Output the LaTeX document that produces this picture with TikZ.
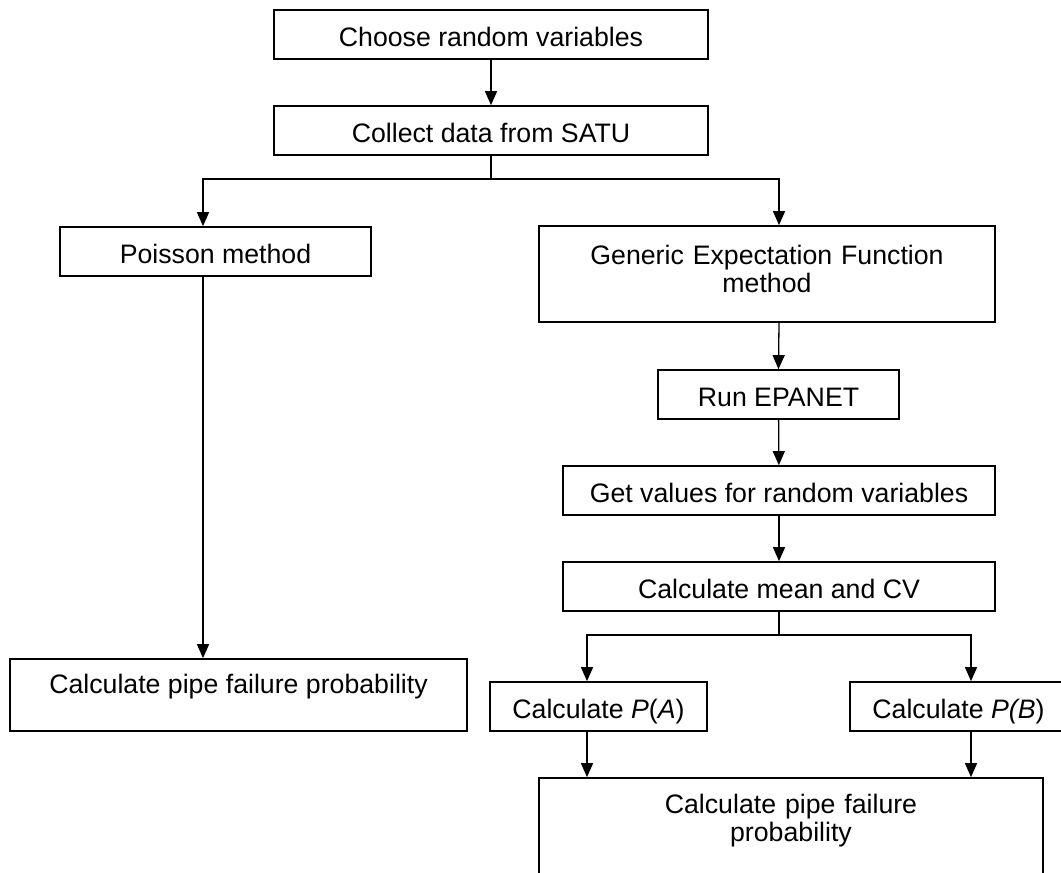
\documentclass[tikz,border=0pt]{standalone}
\usepackage{fontspec}
\setmainfont{Liberation Sans}
\usetikzlibrary{arrows.meta, positioning, calc}

\tikzset{
    box/.style={draw, line width=1.7pt, inner sep=0pt, align=center,
        text height=25pt, text depth=2pt},
    arr/.style={line width=1.3pt, -{Triangle[length=14pt, width=12pt]}},
    wire/.style={line width=1.3pt}
}

\begin{document}
\begin{tikzpicture}[x=1pt, y=-1pt, font=\fontsize{26.7}{28}\selectfont]
    \useasboundingbox (0,0) rectangle (1061,873);
    \clip (0,0) rectangle (1061,873);

    % Top boxes
    \node[box, minimum width=434pt, minimum height=49pt] (choose) at (491, 34.5) {Choose random variables};
    \node[box, minimum width=434pt, minimum height=49pt] (collect) at (491, 130.5) {Collect data from SATU};

    % Two methods
    \node[box, minimum width=311pt, minimum height=49pt] (poisson) at (215.5, 251.5) {Poisson method};
    \node[box, minimum width=456pt, minimum height=96pt, text width=440pt,
        text depth=45pt] (gef) at (767, 274) {Generic Expectation Function\\method};

    % Right column
    \node[box, minimum width=241pt, minimum height=49pt] (epanet) at (778.5, 394.5) {Run EPANET};
    \node[box, minimum width=432pt, minimum height=49pt] (getval) at (779, 490.5) {Get values for random variables};
    \node[box, minimum width=432pt, minimum height=49pt] (mean) at (779, 586.5) {Calculate mean and CV};

    % Probabilities
    \node[box, minimum width=457pt, minimum height=72pt, text depth=29pt] (calcL) at (238.5, 695) {Calculate pipe failure probability};
    \node[box, minimum width=217pt, minimum height=49pt] (pa) at (598.5, 706.5) {Calculate \textit{P}(\textit{A})};
    \node[box, minimum width=217pt, minimum height=49pt] (pb) at (958.5, 706.5) {Calculate \textit{P(B})};
    \node[box, minimum width=504pt, minimum height=120pt, text width=490pt,
        text depth=75pt] (calcR) at (791, 838) {Calculate pipe failure\\probability};

    % Connectors
    \draw[arr] (choose) -- (collect);
    \coordinate (split1) at ($(collect.south)+(0,23)$);
    \draw[wire] (collect.south) -- (split1);
    \draw[arr] (split1) -| ([xshift=-12.5pt]poisson.north);
    \draw[arr] (split1) -| ([xshift=12pt]gef.north);

    \draw[arr] ([xshift=-12.5pt]poisson.south) -- ([xshift=-12.5pt]poisson.south |- calcL.north);

    \draw[arr] ([xshift=12pt]gef.south) -- (epanet.north);
    \draw[arr] (epanet) -- (getval);
    \draw[arr] (getval) -- (mean);

    \coordinate (split2) at ($(mean.south)+(0,23)$);
    \draw[wire] (mean.south) -- (split2);
    \draw[arr] (split2) -| ([xshift=-11.5pt]pa.north);
    \draw[arr] (split2) -| ([xshift=12.5pt]pb.north);

    \draw[arr] ([xshift=-11.5pt]pa.south) -- ([xshift=-11.5pt]pa.south |- calcR.north);
    \draw[arr] ([xshift=12.5pt]pb.south) -- ([xshift=12.5pt]pb.south |- calcR.north);
\end{tikzpicture}
\end{document}
